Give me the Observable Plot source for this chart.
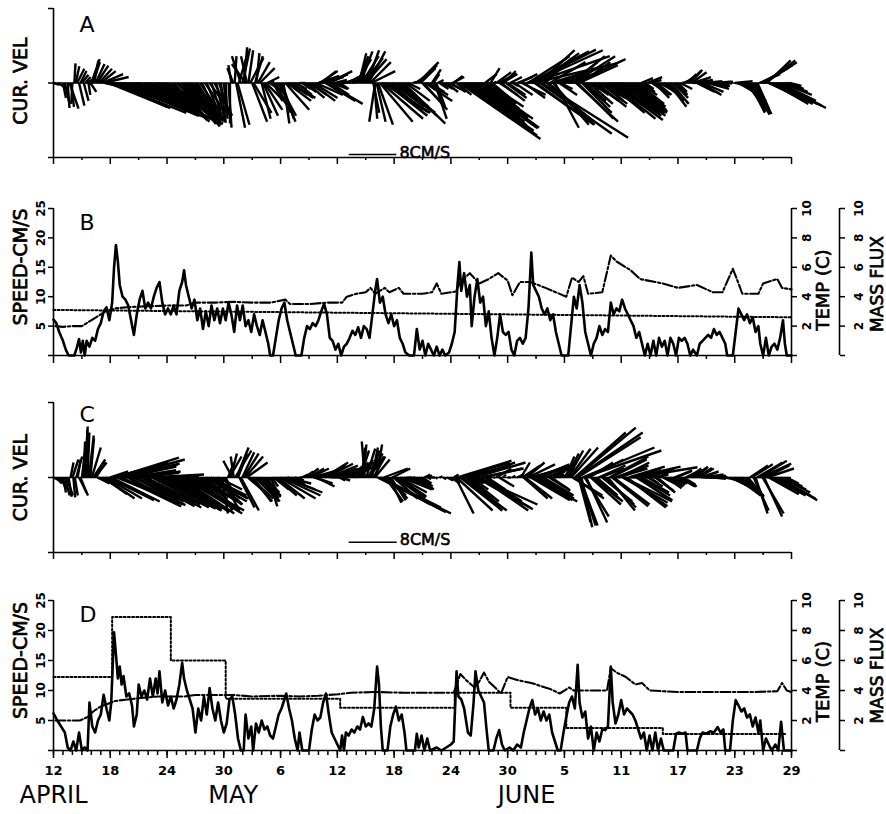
<!DOCTYPE html>
<html><head><meta charset="utf-8">
<script src="https://cdn.jsdelivr.net/npm/d3@7"></script>
<script src="https://cdn.jsdelivr.net/npm/@observablehq/plot@0.6"></script>
<style>
body{margin:0;background:#fff;}
#fig{position:relative;width:886px;height:814px;overflow:hidden;background:#fff;}
#fig svg{position:absolute;left:0;}
</style></head><body><div id="fig"></div>
<script>
// ---- axis / tick data (days since 12 April) ----
const dayTicks = [0,6,12,18,24,30,36,42,48,54,60,66,72,78];
const dayLabels = ["12","18","24","30","6","12","18","24","30","5","11","17","23","29"];
const minorTicks = [3,9,15,21,27,33,39,45,51,57,63,69,75];
const dailyTicks = d3.range(0,79,1);
const monthLabels = ["APRIL","MAY","JUNE"];
const monthStartDays = [0,19,50];
const speedTicks = [0,5,10,15,20,25];
const sideTicks = [0,2,4,6,8,10];
const scaleBarSpeed = 8;
const scaleBarLabel = "8CM/S";

// ---- current-velocity sticks: [day, u (cm/s east), v (cm/s north)] ----
const stickA = [
[0,1,-0.3],[0.5,1.5,-1],[1,0.5,-2.5],[1.5,0.3,-4.2],[2,-0.2,-3.5],[2.2,0.2,3.3],[2.5,1.2,2.4],[2.7,0.9,-3.8],[3,1.1,1.4],[3.2,0.8,-3],[3.5,1,0.6],[3.7,0.3,-2],[4,1.4,4],[4.3,0.7,3.8],[4.6,1.9,2.9],[5,2.5,2],[5.3,4.2,1],[5.6,6,-1.5],[6,6.2,-2.2],[6.3,10,-3.5],[6.6,18,-6.8],[6.8,16,-6],[7,12,-4.5],[7.3,10.5,-4.5],[7.6,9,-3.5],[8,8,-3],[8.5,3.5,-1.5],[9,8.5,-3.5],[9.5,10.5,-4],[10,8.5,-3.3],[10.5,8,-3.3],[11,10,-4.2],[11.5,11.5,-5],[12,5.5,-5.5],[12.5,5,-5],[13,5.2,-5.2],[13.5,6.3,-7],[13.8,6,-7.3],[14.2,5,-6.5],[14.6,4.5,-6],[15,4,-5.5],[15.5,3,-4.5],[16,3.5,-5],[16.5,2.5,-3.5],[17,3,-5.5],[17.5,2,-6],[18,0.5,-5],
[1.2,0.8,-3.5],[1.7,1.5,-4.3],[1.85,0.5,-4],[2.35,0.6,2.8],[2.85,1,2],[3.35,0.9,1],[3.9,1,-1.5],[4.15,1.2,3.5],[4.45,1.5,3.2],[4.8,2.2,2.4],[5.15,3.5,1.5],[5.45,5,-1],
[5.8,10.4,-4.2],[6.1,12.6,-5],[6.45,8.8,-4],[6.7,17,-6.4],[6.9,15,-6],[7.15,13,-5.5],[7.45,11,-4.8],[7.8,10,-4.6],[8.2,9,-4.3],[8.7,7.5,-4],[8.9,9.5,-4.8],[9.2,10,-5],[9.7,9.5,-5],[9.9,8,-4.5],[10.2,9,-5.2],[10.7,8.5,-5.5],[10.9,10,-5.8],[11.2,11,-6],[11.7,9,-6.3],[11.9,7,-6],[12.2,6.5,-6.3],[12.7,6,-6.5],[13.2,6.5,-6.8],[13.7,5.5,-6.9],[14,6,-7],[14.4,5,-6.8],[14.8,4.5,-6.8],[15.2,4,-6.5],[15.7,3,-6.5],[16.2,2.5,-6.2],[16.7,2,-6.5],[17.2,1.5,-6.5],[17.7,0.8,-6.7],[18.2,0.3,-6],
[18.5,0.5,-7.5],[18.8,-0.5,3],[19,-1,2.5],[19.3,1.5,-7.5],[19.6,1.5,5.2],[20,1.2,5.8],[20.3,-2.3,3.2],[20.6,0.8,5.5],[21,2.5,-6.5],[21.3,1.3,4.5],[21.6,2,3.5],[22,1.5,-6],[22.3,3,-4.5],[22.6,2,1],[23,0.5,0.3],[23.5,2.5,-5],[24,2.5,-6.5],[24.3,1,-6.8],[24.7,4,-3],[25,3,-2],[25.5,2,-1],[26,1,0],[26.5,2,-1.5],[27,3,-2],[27.5,4,-2.5],[28,3.5,1.2],[28.3,2.5,2],[28.6,4,1.5],[28.9,6,-3.5],[29.2,3,1.5],[29.5,2.5,-1],[30,1.5,-0.8],[30.5,0.5,0],[31,2,1],[31.5,3,1.5],[32,2.5,4],[32.3,1.2,5],[32.6,2.8,4.5],[33,3.5,4],[33.3,2.8,5.3],[33.6,4,2],[34,-1,-6.5],[34.3,2.5,-7],[34.5,5.5,-6.5],[34.8,8,-5],[35.1,7,-5.5],[35.5,5,-4],[36,6,-4.5],[36.5,5,-4],[37,7,-6.8],[37.5,2,-1],[38,0.5,0.2],[38.5,3.5,3.5],[38.8,2.5,2.5],[39.1,4,-4.5],[39.5,3.5,-2],
[18.65,0,-6.8],[19.15,0.3,4.5],[19.45,2,-7],[19.8,-1.5,4.5],[20.15,0.5,6],[20.45,-1,4.5],[20.8,2.2,4.2],[21.15,3,-5],[21.45,0.5,5],[21.8,2.5,2.5],[22.15,2.5,-5.5],[22.45,3.5,-3.5],[22.8,2.5,-1.5],[23.25,1.5,-3],[23.75,3,-5.5],[24.15,2,-6],[24.5,4,-4.5],[24.85,4.5,-2.5],
[25.25,3.5,-2.5],[25.75,2.5,-2],[26.25,1.5,-1],[26.75,3,-2.5],[27.25,4,-3],[27.75,4.5,-2],[28.15,3,2],[28.45,3.5,1],[28.75,5,-3],[29.05,4,2],[29.35,3,-2],[29.75,2,0.5],[30.25,1.5,-1],[30.75,1.5,0.5],[31.25,2.5,1.5],[31.75,3.5,2],
[32.15,1.8,4.5],[32.45,2,5.3],[32.8,3.2,4.2],[33.15,2,5.5],[33.45,3.5,3.5],[33.8,1,-5],[33.9,0.5,-6],[34.15,1.5,-6.5],[34.65,7,-6],[34.95,7.5,-5],[35.3,6,-4.5],[35.75,5.5,-4],[36.25,6.5,-5],[36.75,6,-5.5],[37.25,4,-3],
[38.25,1.5,1],[38.65,3,3],[38.95,3,-3],[39.3,4.5,-3],[39.75,2.5,-1.5],[40.15,1,1.5],[40.45,1.5,-4],[40.8,1.5,-1],[41.25,1.5,-1],[41.75,2,-1],[42.15,2,1],
[40,1.5,2.3],[40.3,2,-6],[40.6,1,0.5],[41,1,-0.5],[41.5,2,-1.5],[42,2.5,-1.5],[42.3,1.5,1.2],[42.6,2.5,-2],[42.9,13.6,-9.4],[43.2,12,-8],[43.5,10.5,-7.3],[43.8,9.5,-6.5],[44.1,4,-3],[44.4,10,-7],[44.7,10.5,-7.5],[45,9,-6],[45.3,7,-5],[45.6,2,1.5],[45.9,6,-4],[46.2,1.5,2.5],[46.5,0.5,0.2],[47,3,1.5],[47.3,4,-3],[47.6,2,2],[48,3,-2],[48.5,1,-0.5],[49,2.5,1],[49.5,4,-2],[50,5,2],[50.3,10,5.3],[50.5,12,5.5],[50.7,14,3.3],[51,9,-6.5],[51.3,6,5.5],[51.6,14.5,-9.2],[52,3,3],[52.3,7,-6],[52.6,8,2.5],[53,4,-7.5],[53.3,6,1.5],[53.6,2,-1],[54,0.5,0.2],[54.5,3,1.5],[54.8,5.5,4.5],[55.1,8.5,4],[55.4,6,-6],[55.7,5,3.5],[56,4.5,-4],[56.4,2,-1],[56.8,3,-2],[57.2,4,-3],[57.6,4.5,-2.5],[58,3.5,-3],[58.5,4,-2],[58.9,7.5,-6],[59.2,8,-5.5],[59.5,7,-4],[59.8,8,-5],
[43.05,12.8,-8.8],[43.35,11.5,-8],[43.65,10,-7],[43.95,8.5,-6.2],[44.25,8,-5.8],[44.55,10.5,-7.6],[44.85,9.5,-7],[45.15,8,-5.8],[45.45,6.5,-5],[45.75,5.5,-4.3],[46.05,4.5,-3.5],[46.35,3,-2.5],
[46.8,2.5,1.8],[47.15,3,-2],[47.45,2.5,1.5],[47.8,3.5,-2.5],[48.25,2,1],[48.75,3,-2],[49.25,3,1.5],[49.75,3.5,-2.5],
[50.15,7,4.5],[50.4,11,5.6],[50.6,13,4.5],[50.85,10,-7],[51.15,7,5],[51.45,12,-8.5],[51.8,5,4.2],[52.15,8,-7],[52.45,6,3.5],[52.8,6,-7],[53.15,7,2.5],[53.45,3,-2],[53.8,1.5,0.5],
[54.3,2,1],[54.65,4.5,3.5],[54.95,7,4.5],[55.25,7,-6.5],[55.55,6.5,3],[55.85,5,-5],[56.2,3.5,-3],[56.6,4,-3.5],[57,4.5,-3],[57.4,5,-4],[57.8,4.5,-3.5],[58.25,5,-3.5],[58.7,6,-5],[59.05,8.5,-6.2],[59.35,7.5,-5],[59.65,7.5,-4.5],[59.95,7.5,-5.5],[60.3,7,-5],[60.7,6,-4.5],[61.1,6,-4.8],[61.5,5,-4],[61.9,3,-2],
[60.1,7,-4.5],[60.5,6.5,-5],[60.9,6,-4],[61.3,5.5,-4.5],[61.7,4.5,-3.5],[62.1,2,0.8],[62.5,1.5,-1],[63,2,0.5],[63.5,2.5,-2.5],[64,2,-1],[64.5,2.5,-1.5],[65,3,-4],[65.5,2.5,-2.5],[66,1.5,-1.5],[66.5,1.5,0.5],[67,1.5,1.5],[67.3,2,2.2],[67.6,3,1],[68,3,-1.5],[68.4,3.5,-2],[68.8,3,0.3],[69.2,3.5,-1],[69.6,3,-0.5],[70,2.5,0.2],[70.5,2,0],[71,1,0],[71.5,0.3,0],[72,3,0.3],[72.4,3.5,-2],[72.8,4,-3],[73.2,3.5,-4.5],[73.6,2.5,-5],[74,3,-5.2],[74.4,2,-4.5],[74.8,4.5,2.5],[75.1,5.5,3.5],[75.4,4,3.8],[75.7,5,-2.5],[76,6,-3.5],[76.3,7,-3.5],[76.6,8,-4.2],[77,5,-2],[77.4,3,-1],[77.8,2,-0.5],
[62.3,2,-1.5],[62.75,2.5,1],[63.25,3,-2],[63.75,2.5,-2],[64.25,3,-2],[64.75,3,-3],[65.25,3,-3.5],[65.75,2,-2],[66.25,2,-1],[66.75,1.5,1],
[67.15,2,2],[67.45,2.5,1.8],[67.8,3,0.5],[68.2,3.5,-1.8],[68.6,3.5,-1.5],[69,3.5,-0.5],[69.4,3,-0.8],[69.8,2.5,-0.3],[70.25,2.5,0.2],[70.75,1.5,0],
[72.2,3.5,-1],[72.6,4,-2.5],[73,4,-4],[73.4,3,-4.8],[73.8,3,-5.3],[74.2,2.5,-5],[74.6,3.5,1.5],[74.95,5,3],[75.25,5,3.8],[75.55,4.5,-2],[75.85,5.5,-3],[76.15,6.5,-3.5],[76.45,7.5,-3.8],[76.8,6,-3],[77.2,4,-1.5],[77.6,2.5,-1]
];
const stickC = [
[0,1,-0.5],[0.5,1.5,-1.5],[1,0.5,-2.5],[1.4,1,-3],[1.8,0.5,2.5],[2.1,0.3,-3.3],[2.4,1,3.5],[2.7,1.5,-3],[3,0.5,4],[3.3,0.5,8.5],[3.6,0.3,7.5],[3.9,0.6,6.5],[4.2,2,3],[4.5,1.5,2.5],[4.8,2.5,-1],[5.1,2.5,-1.5],[5.4,5,-3.5],[5.7,7,-3.3],[6,3,1],[6.3,7,1.8],[6.6,10.5,3.3],[6.8,10,-3.5],[7,10,2.3],[7.3,8,1.8],[7.6,8.5,1.8],[8,7.5,-4],[8.4,3.5,-1.5],[8.7,8,-4],[9,7,1],[9.4,8.5,-4.2],[9.8,9,-4.5],[10.2,9,0.5],[10.6,10,-4.6],[11,10,-5],[11.5,8,-4.5],[12,9,-5.5],[12.5,7,-4.5],[13,7,-5],[13.4,9,-6],[13.8,10,-5.5],[14.2,7,-4.2],[14.6,6,-3.5],[15,2,-1],[15.4,5.5,-3.5],[15.8,6.5,-4.5],[16.2,7,-3.5],[16.6,6,-3],[17,3,-5.5],[17.4,4,-2],[17.8,1,-6],[18.2,1.5,-3],
[0.25,1,-1],[0.75,1,-2],[1.2,0.8,-3],[1.6,0.5,-3.2],[2,1,3],[2.25,0.5,-3],[2.55,0.5,3],[2.85,1,-2.5],[3.15,0.3,6],[3.45,0.2,8],[3.75,0.8,7],[4.05,1.5,5],[4.35,2,2.5],[4.65,2,-1],
[5.25,4,-2.8],[5.55,6,-3.5],[5.85,7.5,-3.8],[6.15,8,-4],[6.45,9,2.5],[6.7,11,-4.5],[6.9,11,3],[7.15,10,-4.8],[7.45,9,2.2],[7.8,8.5,-4.5],[8.2,7.5,1.2],[8.55,8.5,-4.6],[8.85,7,0.8],[9.2,9,-4.8],[9.6,9.5,-5],[10,8.5,0.3],[10.4,9.5,-5],[10.8,10,-5.2],[11.25,9,-5],[11.75,9.5,-5.5],[12.25,8.5,-5.3],[12.75,8,-5.2],[13.2,8.5,-5.8],[13.6,10,-6],[14,9,-5.5],[14.4,7,-4.5],[14.8,5,-3],[15.2,4.5,-3],[15.6,6,-4],[16,7,-4],[16.4,6.5,-3.5],[16.8,5,-4.5],[17.2,4,-3.5],[17.6,3,-5],[18,2,-4],
[18.6,2,3.5],[18.9,-1.5,2.8],[19.2,2.7,4.5],[19.5,1.5,4],[19.8,3,-5.5],[20.1,2.5,4],[20.4,3.5,2.5],[20.7,4,-3.5],[21.1,3,-4],[21.5,4,-3.2],[21.9,3,-3.5],[22.3,2.5,-2.5],[22.7,1.5,-4.8],[23.1,1,-1.5],[23.5,3.5,-3],[23.9,6,-3.5],[24.3,6.5,-2.5],[24.7,4,-1],[25.1,2,-1],[25.5,1.5,-0.5],[26,0.5,0],[26.5,1.5,1],[27,2.5,1.5],[27.4,3.5,1],[27.8,3,-1.5],[28.2,3.5,1.5],[28.6,4,2.5],[29,5,2],[29.4,4,1],[29.8,1.5,0.5],[30.2,1,-0.5],[30.6,1.5,0.5],[31,2,1.5],[31.4,3,2.5],[31.8,3.5,2],[32.2,2.5,3],[32.6,0.5,5],[32.9,-0.5,6],[33.2,2.5,4],[33.5,1.5,4.5],[33.8,2,3.5],[34.1,1,5.5],[34.4,12,-6],[34.6,10,-5],[34.9,4,1.5],[35.2,3.5,-3.5],[35.5,2,-4.2],[35.8,3,1.5],[36.1,5,-3.5],[36.4,4.5,-3],[36.8,5,-2],[37.2,3,-1],[37.6,0.5,0],[38,0.3,0],[38.4,2.5,-2],[38.8,2,-1.5],[39.2,1,0.5],[39.6,0.5,-0.3],
[18.45,1,2.5],[18.75,1,4],[19.05,-0.5,3.5],[19.35,2,5],[19.65,2.5,-5],[19.95,2,4.2],[20.25,3,3.5],[20.55,3.5,-3],[20.9,3.5,-4],[21.3,3.5,-3.5],[21.7,3.5,-4],[22.1,3,-3],[22.5,2,-4],[22.9,1.5,-3],[23.3,2.5,-2],[23.7,4.5,-3.5],[24.1,6.5,-3],[24.5,5,-2],[24.9,3,-1.5],
[25.3,2,-1],[25.75,1,-0.5],[26.25,1,0.5],[26.75,2,1.5],[27.2,3,1.5],[27.6,3,-1],[28,3,1],[28.4,4,2],[28.8,4.5,2.3],[29.2,4.5,1.5],[29.6,3,0.5],[30,1.5,0],[30.4,1.5,-0.5],[30.8,2,1],[31.2,2.5,2],[31.6,3.5,2.5],[32,3,2.5],
[32.4,1.5,4.5],[32.75,0.5,5.5],[33.05,1.5,4.8],[33.35,2.5,3.5],[33.65,1,5],[33.95,2.5,3],[34.25,11,-5.5],[34.5,11,-5.8],[34.75,8,-4.5],[35.05,3,-4],[35.35,3,-3],[35.65,2.5,-3.8],[35.95,4,-3.5],[36.25,5,-3.2],[36.6,4.5,-2.5],[37,4,-1.5],[37.4,2,-0.5],
[38.2,1.5,-1],[38.6,2.5,-2],[39,1.5,-1],[39.4,1,0.3],
[40,0.5,0],[40.4,0.3,-0.2],[40.8,0.5,0.2],[41.2,0.5,-0.3],[41.6,1,-0.5],[42,1.5,-1],[42.3,0.8,0.5],[42.5,3,-6],[42.7,9,2.8],[43,7,-5.5],[43.3,8,2],[43.6,6,-5.5],[43.9,5,-4],[44.2,2,-1],[44.5,8.5,2.5],[44.8,10,-4.5],[45.1,8,-5.5],[45.4,6.5,1.5],[45.7,6,-4],[46,0.5,0],[46.5,0.3,0],[46.8,2.5,1.5],[47.1,2.5,-1.5],[47.5,0.5,0.5],[48,0.5,0],[48.5,0.5,0.3],[49,1,0.5],[49.4,1.5,2.5],[49.7,4,-3.5],[50,3,2.5],[50.3,6,1.5],[50.6,7.5,-4],[50.9,5,1.8],[51.2,6,-3.5],[51.5,4.5,2],[51.8,5,-3],[52.2,4,1.5],[52.6,3,-2],[53,1.5,0.5],[53.4,0.5,0.2],[53.8,2,1.5],[54.1,1.5,3.5],[54.4,2.5,4.5],[54.7,4.5,5],[55,5,-3.5],[55.2,10,8.3],[55.4,10.5,6.7],[55.6,3,-8],[55.8,1.8,-8.3],[56,13,4.5],[56.3,3.5,-7.5],[56.6,4,2.5],[57,5,-4],[57.4,3.5,-3],[57.8,4,1.5],[58.2,5,-4.5],[58.6,4.5,-5.5],[58.9,6,3],[59.2,6,-4.5],[59.6,5,1.5],
[42.6,6,-5.5],[42.85,8.5,2.5],[43.15,7.5,-5.5],[43.45,7,1.8],[43.75,5.5,-4.8],[44.05,3,-2],[44.35,7,2.5],[44.65,9,-5],[44.95,9,-5.3],[45.25,7,1.5],[45.55,6.5,-4.5],[45.85,3,-2],
[49.55,3,2],[49.85,4.5,-3.5],[50.15,4.5,2.2],[50.45,6.5,-3.8],[50.75,6.5,2],[51.05,6,-3.8],[51.35,5,2.2],[51.65,5,-3.2],[52,4.5,1.8],[52.4,3.5,-2.2],[52.8,2,1],
[54.25,2,4],[54.55,3.5,4.8],[54.85,5,-3],[55.1,8.5,7.5],[55.3,11,7.5],[55.5,2,-7.5],[55.7,2.5,-8],[55.9,12,5],[56.15,4,-6.5],[56.45,6,3],[56.8,5,-4.5],[57.2,4,-3.5],[57.6,4.5,2],[58,5,-4],[58.4,5,-5],[58.75,6.5,3.5],[59.05,6,-4.8],[59.4,5.5,2],[59.8,5,2.5],[60.15,7.5,-4.2],[60.45,7,-4.8],[60.8,6,1.8],[61.2,8,1.8],[61.6,6,-3.8],[62,5,-3],
[60,4,2],[60.3,8,-4],[60.6,6.5,-5],[61,5,1.5],[61.4,10.5,1.7],[61.8,5,-3.5],[62.2,4.5,-2.5],[62.6,3,1],[63,1.5,-1],[63.4,2.5,0.5],[63.8,3,-2.5],[64.2,2,1.5],[64.6,1.5,-0.5],[65,2.5,-1.5],[65.4,2.5,-1],[65.8,2.5,1],[66.2,2.5,-1.5],[66.6,2,-1.2],[67,1.5,0.8],[67.4,2.5,1.5],[67.8,2,1.7],[68.2,2.5,1.5],[68.6,3.5,0.5],[69,3,0.2],[69.4,2.5,0.2],[69.8,2,-0.2],[70.2,1.5,0],[70.6,1,0],[71,1.5,-0.3],[71.4,2.5,-1],[71.8,3.5,-2],[72.2,4,-3],[72.6,3.5,-2.5],[73,3,-3],[73.4,2.5,-3],[73.8,3.5,2.2],[74.2,2,-6],[74.5,4,2.5],[74.8,5,2.3],[75.1,3,-6.5],[75.4,4.5,1.5],[75.8,5,-2.5],[76.2,6,-3],[76.6,6.5,-3.8],[77,4,-2],[77.5,2,-1],
[62.4,4,1.2],[62.8,2.5,-1.5],[63.2,2,1],[63.6,3,-2.2],[64,2.5,1.5],[64.4,2,-1],[64.8,2.5,-1.8],[65.2,2.5,-1.2],[65.6,3,1.2],[66,3,-1.5],[66.4,2.5,-1.5],[66.8,2,1],[67.2,2,1.5],[67.6,2.5,1.8],[68,2.5,1.6],[68.4,3,1],[68.8,3.5,0.3],[69.2,3,0.2],[69.6,2,0],
[71.6,3,-1.5],[72,4,-2.5],[72.4,4,-3],[72.8,3.5,-3],[73.2,3,-3.2],[73.6,3,2],[74,2.5,-5.5],[74.35,3.5,2],[74.65,4.5,2.8],[74.95,3.5,-6],[75.25,4,2],[75.6,5,-2.8],[76,5.5,-3],[76.4,6.5,-3.5],[76.8,5,-2.5],[77.25,3,-1.5]
];

// ---- speed (cm/s), temperature (C), mass flux: [day, value] ----
const speedB = [[0,6.1],[0.3,5.5],[0.6,4],[1,2.5],[1.3,1],[1.6,0],[2.2,0],[2.5,1.5],[2.7,2.8],[2.9,0.5],[3.1,2.5],[3.3,0],[3.5,2.5],[3.8,1.5],[4.1,3],[4.4,2.5],[4.7,4.5],[5,5.5],[5.3,7.5],[5.6,8.2],[5.9,6],[6.2,9],[6.4,15],[6.6,18.8],[6.8,16],[7,12],[7.3,10],[7.6,9.5],[7.9,8.5],[8.2,6],[8.5,3.5],[8.8,7],[9.1,9.5],[9.4,11],[9.7,8],[10,9],[10.3,8],[10.6,10],[10.9,11.5],[11.2,12.5],[11.5,9],[11.8,7],[12.1,8],[12.4,7],[12.7,8.5],[13,7],[13.3,11],[13.6,12.5],[13.8,14.5],[14,12],[14.3,10],[14.6,8],[14.9,9.5],[15.2,6],[15.5,8],[15.8,4.5],[16.1,7.5],[16.4,5],[16.7,8.5],[17,6],[17.3,8],[17.6,5.5],[17.9,8],[18.2,6],[18.5,9],[18.8,7],[19.1,4],[19.4,8.5],[19.7,6],[20,8.5],[20.3,5],[20.6,6],[20.9,4],[21.2,7],[21.5,5],[21.8,3.5],[22.1,6],[22.4,4],[22.7,2],[22.9,0],[23.2,0],[23.5,3],[23.8,6],[24.1,8],[24.4,9],[24.7,6],[25,4],[25.3,2],[25.6,0],[26.2,0],[26.5,3],[26.8,5],[27.1,4.5],[27.4,5.5],[27.7,5],[28,6],[28.3,7.5],[28.6,8.8],[28.9,7],[29.2,3],[29.5,2.5],[29.8,1],[30.1,2],[30.4,0],[30.7,1.5],[31,2],[31.3,3],[31.6,4.2],[31.9,3.5],[32.2,4.8],[32.5,3],[32.8,5],[33.1,4.5],[33.4,3],[33.7,7],[34,11],[34.2,13],[34.5,9],[34.8,10],[35.1,7],[35.4,5.5],[35.7,7],[36,5],[36.3,6],[36.6,3],[36.9,2],[37.2,0.5],[37.6,0],[38.1,0],[38.4,4.5],[38.7,1],[39,2.5],[39.3,0],[39.6,2],[39.9,1],[40.2,0],[40.5,1.5],[40.8,0],[41.1,1],[41.4,0],[41.8,0.5],[42.1,2],[42.4,4],[42.7,12],[42.9,15.9],[43.1,11],[43.4,14],[43.7,10],[44,12],[44.2,5],[44.5,10],[44.8,13],[45.1,9],[45.4,10],[45.7,5],[46,7.5],[46.3,3],[46.6,0],[46.9,3],[47.2,7],[47.5,4],[47.8,3.5],[48.1,4],[48.4,1],[48.7,0],[49,2.5],[49.3,3],[49.6,2],[49.9,3],[50.2,8],[50.5,17.5],[50.7,12],[51,11],[51.3,10],[51.6,8],[51.9,7],[52.2,8],[52.5,6],[52.8,7],[53.1,4],[53.4,2],[53.7,0],[54.4,0],[54.7,5],[55,10],[55.3,8],[55.6,12],[55.9,9],[56.2,4],[56.5,2],[56.8,0],[57.1,2],[57.4,3],[57.7,5],[58,3.5],[58.3,4.5],[58.6,4],[58.9,9],[59.2,7],[59.5,8],[59.8,7.5],[60.1,9.5],[60.4,8],[60.7,7],[61,6],[61.3,5],[61.6,3],[61.9,4],[62.2,2],[62.5,0],[62.8,2],[63.1,0],[63.4,2.5],[63.7,0],[64,3],[64.3,1.5],[64.6,2.5],[64.9,0],[65.2,3],[65.5,2],[65.8,0],[66.1,3],[66.4,2.5],[66.7,3],[67,2],[67.3,0],[67.6,1],[68,0],[68.3,2],[68.6,2.5],[68.9,3],[69.2,3.5],[69.5,3],[69.8,4.5],[70.1,3.5],[70.4,4],[70.7,3],[71,2],[71.2,0],[71.8,0],[72.1,4],[72.4,8],[72.7,7],[73,6],[73.3,7],[73.6,5.5],[73.9,6.5],[74.2,4],[74.5,5],[74.7,2],[75,0],[75.3,3],[75.6,0],[75.9,1.5],[76.2,2],[76.5,1],[76.8,3],[77.1,6],[77.3,2],[77.5,0],[78,0]];
const tempB = [[0.2,2.0],[1,1.95],[2,2.0],[3,2.0],[3.5,2.2],[4.5,2.6],[5.5,3.0],[6.5,3.2],[8,3.3],[10,3.35],[12,3.4],[14,3.4],[15,3.6],[17,3.6],[19,3.65],[21,3.6],[23,3.6],[24.5,3.8],[25,3.5],[27,3.5],[29,3.6],[30.5,3.6],[31,4.0],[32,4.2],[33,4.3],[33.5,4.6],[34,4.2],[35,4.6],[35.5,4.3],[36.5,4.6],[37,4.2],[39,4.2],[40,4.3],[40.5,4.9],[41,4.2],[42.5,4.35],[43,5.0],[44,5.6],[45,4.9],[46,5.2],[47,5.6],[48,5.1],[48.5,4.1],[49.3,5.0],[50.4,5.0],[52,4.6],[54.2,4.0],[54.8,5.3],[55.5,5.0],[56,5.4],[56.5,4.2],[58,4.3],[58.9,6.8],[59.5,6.4],[61,5.8],[62,5.2],[64.4,4.9],[66,4.6],[68,4.8],[69.7,4.3],[70.7,4.3],[71.8,5.9],[72.4,4.9],[72.8,4.2],[74.5,4.2],[75,4.9],[76.5,5.2],[77,4.6],[78,4.5]];
const fluxB = [[0,3.1],[40,2.85],[78,2.6]];

const speedD = [[0,6.2],[0.4,5],[0.8,4],[1.2,3],[1.5,0.5],[1.8,0],[2.1,1.5],[2.4,0],[2.7,3],[3,0],[3.3,0.5],[3.6,0],[3.8,8],[4.1,4],[4.4,3],[4.7,5],[5,6],[5.3,9.3],[5.6,7],[5.9,5],[6.1,8],[6.4,19.7],[6.6,16],[6.8,12],[7,14],[7.2,11],[7.4,12.4],[7.7,9],[8,9.5],[8.3,7.5],[8.5,4],[8.8,6],[9,11],[9.3,9],[9.6,10],[9.9,8.5],[10.2,12],[10.5,9],[10.8,12],[11,9.5],[11.2,13.2],[11.5,8],[11.8,10],[12.1,7.5],[12.4,9],[12.7,7],[13,8.5],[13.3,11],[13.6,14.6],[13.8,12],[14.1,10],[14.4,8.5],[14.7,7],[15,3],[15.3,7],[15.6,5],[15.9,9],[16.2,6],[16.5,10.4],[16.8,7],[17.1,5],[17.4,8],[17.7,5],[18,3],[18.3,4.5],[18.6,8.5],[18.9,9],[19.2,6],[19.5,2],[19.8,0],[20.1,0],[20.3,6],[20.6,2],[20.9,4],[21.1,0],[21.4,4.5],[21.7,3],[22,5],[22.3,3.5],[22.6,4],[22.9,2.5],[23.2,2],[23.5,4],[23.8,6],[24.1,7],[24.4,8.5],[24.6,9.5],[24.9,7],[25.2,5],[25.5,2],[25.8,0],[26,3],[26.3,0],[27,0],[27.3,3.5],[27.6,6],[27.9,5],[28.2,5.5],[28.5,8],[28.8,9.5],[29.1,6],[29.4,3],[29.7,2],[30,1],[30.3,0],[30.5,2.5],[30.7,0],[30.9,3],[31.2,2.5],[31.5,3.5],[31.8,3],[32.1,4],[32.4,3.5],[32.7,5.6],[33,4],[33.3,4.5],[33.6,4],[33.9,7],[34.2,14],[34.4,11],[34.6,4],[34.8,0],[35.3,0],[35.6,4],[35.9,6],[36.2,7.3],[36.5,5],[36.8,6],[37.1,3],[37.3,0],[38.2,0],[38.4,2.8],[38.6,0.5],[38.9,2.5],[39.2,0],[39.5,2],[39.8,0],[40.5,0.5],[41,0],[41.5,0.5],[42,1],[42.3,1.5],[42.6,13.2],[42.8,9],[43.1,8.5],[43.4,7],[43.8,3],[44.1,2.5],[44.4,8],[44.6,13.2],[44.9,10],[45.2,9],[45.5,8],[45.8,3],[46,0],[46.5,0],[46.8,2],[47.1,3.4],[47.4,1],[47.7,0],[48.2,0.5],[48.6,0],[49,1],[49.4,0.5],[49.7,3],[50,5],[50.3,7],[50.6,8.4],[50.9,6],[51.2,7],[51.5,5],[51.8,6.5],[52.1,5],[52.4,6],[52.7,3],[53,1.5],[53.3,0],[53.6,0],[53.9,3],[54.2,5.6],[54.5,8],[54.8,9],[55.1,7],[55.4,14.3],[55.6,8],[55.9,5.5],[56.2,6.5],[56.5,2],[56.8,4],[57.1,0],[57.4,3],[57.7,1.5],[58,3.5],[58.3,3.4],[58.6,4],[58.9,14],[59.1,8],[59.4,4.5],[59.7,6],[60,8.4],[60.3,6],[60.6,7],[60.9,6.5],[61.2,6],[61.5,5],[61.8,3.5],[62.1,2],[62.4,3],[62.7,0],[63,2.5],[63.3,0],[63.6,3],[63.9,0],[64.2,2],[64.5,0],[65.5,0],[65.8,2.8],[66.1,3],[66.5,2.8],[66.8,3],[67,0],[68,0],[68.3,2],[68.6,3],[69,2.8],[69.4,3.2],[69.8,3],[70.2,3.9],[70.5,3],[70.8,3.5],[71,0],[71.5,0],[71.8,5],[72.1,8.4],[72.4,7.5],[72.7,6.5],[73,7],[73.3,5.5],[73.6,6],[73.9,4],[74.2,5.5],[74.5,3],[74.7,5],[75,0],[75.3,2],[75.6,1],[75.9,0],[76.3,1],[76.6,0],[76.9,4.8],[77.2,0],[78,0]];
const tempD = [[0.2,2.0],[1,2.0],[2,2.0],[2.8,2.0],[3.5,2.2],[4.2,2.6],[4.9,2.9],[5.7,3.1],[6.5,3.3],[7.8,3.4],[9.2,3.5],[11,3.6],[13.8,3.6],[15,3.7],[17,3.7],[19.1,3.7],[21,3.6],[24,3.65],[26,3.6],[28,3.65],[30.1,3.75],[31.4,3.85],[34,3.9],[37,3.85],[40,3.85],[42.3,3.85],[43,5.1],[43.6,4.7],[44.5,4.2],[45,4.6],[45.5,5.2],[46,4.6],[46.5,4.3],[47.3,3.8],[48,4.9],[49,4.7],[50.5,4.5],[52.5,4.1],[53.5,3.8],[54.5,4.2],[55,4.0],[56.5,4.0],[58.5,4.0],[58.9,5.5],[59.5,5.2],[60.5,4.9],[61.5,4.4],[62.2,4.5],[63,4.0],[66,3.9],[70,3.9],[74,3.9],[76.5,3.95],[77,4.5],[77.5,4.0],[78,3.9]];
const fluxD = [[0,4.9],[6.2,8.9],[12.4,6.0],[18.2,3.45],[30.3,2.85],[42.4,3.85],[48.3,2.85],[54.2,1.5],[64.4,1.1],[77.5,1.1]];

// ---- layout ----
const W = 886, ML = 53, MR = 95;
const pxPerDay = (W - ML - MR) / 78;
const FONT = "'DejaVu Sans', 'Liberation Sans', sans-serif";
const fig = document.getElementById("fig");
const baseStyle = {background: "transparent", overflow: "visible", fontFamily: FONT, color: "#000"};
const noText = () => "";
const labelFont = {fontSize: 19, fontWeight: "normal", stroke: "#000", strokeWidth: 0.7, fill: "#000"};

function stickPanel(sticks, o) {
  const plotH = o.height - o.mt - o.mb;
  const k = (plotH / 25) / pxPerDay;   // days per cm/s so that sticks keep their true direction
  const barStart = 31.2;
  const svg = Plot.plot({
    width: W, height: o.height, marginLeft: ML, marginRight: MR, marginTop: o.mt, marginBottom: o.mb,
    x: {domain: [0, 78]}, y: {domain: [-12.5, 12.5]},
    style: baseStyle,
    marks: [
      Plot.ruleY([0], {x1: 0, x2: 78, stroke: "#000", strokeWidth: 1.5}),
      Plot.link(sticks, {x1: d => d[0], y1: () => 0, x2: d => d[0] + d[1] * k, y2: d => d[2], stroke: "#000", strokeWidth: 2.4}),
      Plot.ruleX([0], {y1: -12.5, y2: 12.5, stroke: "#000", strokeWidth: 1.6}),
      Plot.ruleY([-12.5], {x1: 0, x2: 78, stroke: "#000", strokeWidth: 1.6}),
      Plot.axisY([-12.5, 0, 12.5], {anchor: "left", tickSize: 5, tickFormat: noText, label: null, strokeWidth: 1.5}),
      Plot.axisX(dayTicks, {anchor: "bottom", tickSize: 7, tickFormat: noText, label: null, strokeWidth: 1.5}),
      Plot.axisX(minorTicks, {anchor: "bottom", tickSize: 3, tickFormat: noText, label: null, strokeWidth: 1.5}),
      Plot.link([scaleBarSpeed], {x1: () => barStart, y1: () => o.barV, x2: d => barStart + d * k, y2: () => o.barV, stroke: "#000", strokeWidth: 1.6}),
      Plot.text([scaleBarLabel], {x: () => barStart + scaleBarSpeed * k, y: () => o.barV, dx: 3, dy: 3, textAnchor: "start", lineAnchor: "bottom", fontSize: 16, fill: "#000", stroke: "#000", strokeWidth: 0.6}),
      Plot.text([o.letter], {frameAnchor: "top-left", dx: 26, dy: o.letterDy, fontSize: 22, fill: "#000"}),
      Plot.text(["CUR. VEL"], {frameAnchor: "left", textAnchor: "middle", lineAnchor: "middle", rotate: -90, dx: -33, dy: o.labelDy, ...labelFont})
    ]
  });
  svg.style.top = o.top + "px";
  fig.appendChild(svg);
}

function linePanel(speed, temp, flux, o) {
  const side = sideTicks.map(v => v * 2.5);
  const marks = [
    Plot.line(flux, {x: d => d[0], y: d => d[1] * 2.5, curve: o.fluxCurve, stroke: "#000", strokeWidth: 2, strokeDasharray: "2,2.2"}),
    Plot.line(temp, {x: d => d[0], y: d => d[1] * 2.5, stroke: "#000", strokeWidth: 2.1, strokeDasharray: "10,2.5,2.5,2.5"}),
    Plot.line(speed, {x: d => d[0], y: d => d[1], stroke: "#000", strokeWidth: 2.6, strokeLinejoin: "round"}),
    Plot.ruleX([0], {y1: 0, y2: 25, stroke: "#000", strokeWidth: 1.6}),
    Plot.ruleY([0], {x1: 0, x2: 78, stroke: "#000", strokeWidth: 1.6}),
    Plot.ruleX([78], {y1: 0, y2: 25, stroke: "#000", strokeWidth: 1.6}),
    Plot.ruleX([78], {y1: 0, y2: 25, dx: 48, stroke: "#000", strokeWidth: 1.6}),
    Plot.axisY(speedTicks, {anchor: "left", tickSize: 5, tickFormat: noText, label: null, strokeWidth: 1.5}),
    Plot.axisY(side, {anchor: "right", tickSize: 5, tickFormat: noText, label: null, strokeWidth: 1.5}),
    Plot.axisY(side, {anchor: "right", tickSize: 5, tickFormat: noText, label: null, strokeWidth: 1.5, dx: 48}),
    Plot.text(speedTicks.slice(1), {x: () => 0, y: d => d, text: d => String(d), rotate: -90, dx: -12, fontSize: 12, fontWeight: "bold", fill: "#000"}),
    Plot.text(sideTicks.slice(1), {x: () => 78, y: d => d * 2.5, text: d => String(d), rotate: -90, dx: 16, fontSize: 12, fontWeight: "bold", fill: "#000"}),
    Plot.text(sideTicks.slice(1), {x: () => 78, y: d => d * 2.5, text: d => String(d), rotate: -90, dx: 68, fontSize: 12, fontWeight: "bold", fill: "#000"}),
    Plot.text(["SPEED-CM/S"], {frameAnchor: "left", textAnchor: "middle", lineAnchor: "middle", rotate: -90, dx: -33, dy: -15, ...labelFont}),
    Plot.text(["TEMP (C)"], {frameAnchor: "right", textAnchor: "middle", lineAnchor: "middle", rotate: -90, dx: 32, dy: o.tempDy, ...labelFont, fontSize: 18}),
    Plot.text(["MASS FLUX"], {frameAnchor: "right", textAnchor: "middle", lineAnchor: "middle", rotate: -90, dx: 86, dy: o.massDy, ...labelFont, fontSize: 17}),
    Plot.text([o.letter], {frameAnchor: "top-left", dx: 26, dy: o.letterDy, fontSize: 22, fill: "#000"})
  ];
  if (o.daily) {
    marks.push(
      Plot.axisX(dailyTicks, {anchor: "bottom", tickSize: 5, tickFormat: noText, label: null, strokeWidth: 1.5}),
      Plot.axisX(dayTicks, {anchor: "bottom", tickSize: 8, tickFormat: noText, label: null, strokeWidth: 1.5}),
      Plot.text(dayTicks, {x: d => d, text: (d, i) => dayLabels[i], frameAnchor: "bottom", lineAnchor: "top", dy: 15, fontSize: 13, fontWeight: "bold", fill: "#000"}),
      Plot.text(monthStartDays, {x: d => d, text: (d, i) => monthLabels[i], frameAnchor: "bottom", lineAnchor: "top", dy: 35, fontSize: 24, fill: "#000"})
    );
  } else {
    marks.push(
      Plot.axisX(dayTicks, {anchor: "bottom", tickSize: 8, tickFormat: noText, label: null, strokeWidth: 1.5}),
      Plot.axisX(minorTicks, {anchor: "bottom", tickSize: 4, tickFormat: noText, label: null, strokeWidth: 1.5})
    );
  }
  const svg = Plot.plot({
    width: W, height: o.height, marginLeft: ML, marginRight: MR, marginTop: o.mt, marginBottom: o.mb,
    x: {domain: [0, 78]}, y: {domain: [0, 25]},
    style: baseStyle,
    marks
  });
  svg.style.top = o.top + "px";
  fig.appendChild(svg);
}

stickPanel(stickA, {top: 0, height: 170, mt: 8, mb: 13, letter: "A", letterDy: 8, labelDy: -2, barV: -12.0});
linePanel(speedB, tempB, fluxB, {top: 175, height: 200, mt: 33, mb: 20, letter: "B", letterDy: 6, tempDy: 8, massDy: 2, fluxCurve: "linear", daily: false});
stickPanel(stickC, {top: 380, height: 185, mt: 22, mb: 13, letter: "C", letterDy: 4, labelDy: 0, barV: -10.8});
linePanel(speedD, tempD, fluxD, {top: 570, height: 244, mt: 30, mb: 64, letter: "D", letterDy: 6, tempDy: 6, massDy: 0, fluxCurve: "step-after", daily: true});
</script>
</body></html>
